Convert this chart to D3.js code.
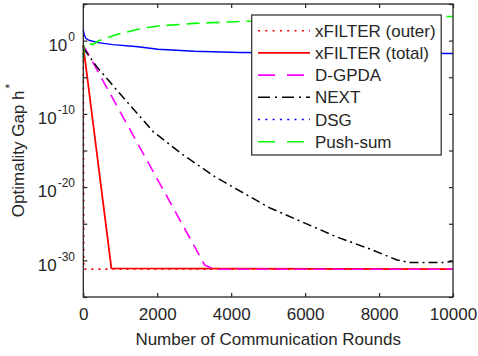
<!DOCTYPE html>
<html><head><meta charset="utf-8">
<script src="https://cdn.jsdelivr.net/npm/d3@7"></script>
<style>
body{margin:0;background:#fff;}
text{font-family:"Liberation Sans",Arial,Helvetica,sans-serif;fill:#262626;}
</style></head>
<body><svg id="c" width="478" height="356"></svg>
<script>
// ---- data (x = communication rounds, values given as log10 of optimality gap) ----
const seriesNames = ["xFILTER (outer)","xFILTER (total)","D-GPDA","NEXT","DSG","Push-sum"];
const outerX = [0, 15, 10000];
const outerLog = [-0.7, -31.2, -31.2];
const totalX = [0, 760, 10000];
const totalLog = [-0.7, -31.1, -31.2];
const gpdaX = [0, 3284, 3420, 3550, 10000];
const gpdaLog = [-0.6, -30.63, -30.95, -31.22, -31.22];
const nextX = [0, 370, 1000, 1890, 2700, 3570, 5050, 6860, 7755, 8485, 8835, 9730, 10000];
const nextLog = [-1.0, -3.6, -7.3, -12.43, -15.6, -18.62, -22.85, -26.81, -28.45, -29.95, -30.3, -30.3, -30.15];
const dsgX = [0, 20, 70, 150, 400, 800, 1480, 2020, 3000, 4240, 6000, 8000, 10000];
const dsgLog = [1.5, 0.9, 0.3, 0.05, -0.28, -0.55, -0.83, -1.18, -1.45, -1.62, -1.68, -1.72, -1.75];
const pushX = [0, 20, 60, 150, 260, 400, 860, 1210, 1480, 2020, 3000, 4100, 6000, 8000, 10000];
const pushLog = [-2.37, -0.5, -0.35, -0.4, -0.55, -0.05, 0.77, 1.22, 1.55, 2.0, 2.35, 2.58, 2.95, 3.17, 3.3];
const xTicks = [0, 2000, 4000, 6000, 8000, 10000];
const yTickExp = [-35, -30, -25, -20, -15, -10, -5, 0, 5];
const yLabelExp = [-30, -20, -10, 0];

const svg = d3.select("#c");
const L = 83.3, R = 453, T = 4, B = 297;
const x = d3.scaleLinear().domain([0, 10000]).range([L, R]);
const y = d3.scaleLog().domain([1e-35, 1e5]).range([B, T]);
const axCol = "#262626";

const styles = [
  {color:"#ff0000", dash:"2,5", width:1.6},
  {color:"#ff0000", dash:null, width:1.8},
  {color:"#ff00ff", dash:"12,7", width:1.6},
  {color:"#000000", dash:"9,4,2,4", width:1.5},
  {color:"#0000ff", dash:null, width:1.4},
  {color:"#00ff00", dash:"13,7", width:1.6}
];
const legendDash = ["2,5.3", null, "17,12", "12,5,2,5", "2,5.3", "17,12"];
const data = [[outerX,outerLog],[totalX,totalLog],[gpdaX,gpdaLog],[nextX,nextLog],[dsgX,dsgLog],[pushX,pushLog]];

const line = d3.line().x(d=>x(d[0])).y(d=>y(d[1]));
const plot = svg.append("g");
data.forEach((s,i)=>{
  const pts = s[0].map((v,j)=>[v, Math.pow(10, s[1][j])]);
  const p = plot.append("path").datum(pts).attr("d", line)
    .attr("fill","none").attr("stroke", styles[i].color)
    .attr("stroke-width", styles[i].width).attr("stroke-linejoin","round");
  if (styles[i].dash) p.attr("stroke-dasharray", styles[i].dash);
});

// axes
const gx = svg.append("g").attr("transform",`translate(0,${B})`)
  .call(d3.axisBottom(x).tickValues(xTicks).tickSize(-4).tickPadding(11).tickFormat(d3.format("d")));
const gxt = svg.append("g").attr("transform",`translate(0,${T})`)
  .call(d3.axisTop(x).tickValues(xTicks).tickSize(-4).tickFormat(""));
const yVals = yTickExp.map(e=>Math.pow(10,e));
const gy = svg.append("g").attr("transform",`translate(${L},0)`)
  .call(d3.axisLeft(y).tickValues(yVals).tickSize(-4).tickFormat(""));
const gyr = svg.append("g").attr("transform",`translate(${R},0)`)
  .call(d3.axisRight(y).tickValues(yVals).tickSize(-4).tickFormat(""));
[gx,gxt,gy,gyr].forEach(g=>{
  g.select(".domain").remove();
  g.selectAll(".tick line").attr("stroke",axCol).attr("stroke-width",1.2);
  g.selectAll("text").attr("font-size",17).attr("font-family","Liberation Sans, Arial, sans-serif").attr("fill",axCol);
});
svg.append("rect").attr("x",L).attr("y",T).attr("width",R-L).attr("height",B-T)
  .attr("fill","none").attr("stroke",axCol).attr("stroke-width",1.3);

// y tick labels with superscripts
yLabelExp.forEach(e=>{
  const t = svg.append("text").attr("x", 75).attr("y", y(Math.pow(10,e)) + 10.3)
    .attr("text-anchor","end").attr("font-size",17);
  t.append("tspan").text("10");
  t.append("tspan").attr("font-size",12).attr("dy",-10).attr("dx",1).text(e===0?"0":String(e));
});

// axis titles
svg.append("text").attr("x",(L+R)/2).attr("y",345).attr("text-anchor","middle")
  .attr("font-size",17).text("Number of Communication Rounds");
const yt = svg.append("text").attr("transform",`translate(24,${(T+B)/2}) rotate(-90)`)
  .attr("text-anchor","middle").attr("font-size",17);
yt.append("tspan").text("Optimality Gap h");
yt.append("tspan").attr("font-size",12).attr("dy",-10).attr("dx",2).text("*");

// legend
const lg = svg.append("g");
lg.append("rect").attr("x",251.7).attr("y",15).attr("width",189.5).attr("height",140)
  .attr("fill","#fff").attr("stroke",axCol).attr("stroke-width",1.2);
seriesNames.forEach((n,i)=>{
  const cy = 30.7 + i*22.2;
  const l = lg.append("line").attr("x1",258).attr("x2",310).attr("y1",cy).attr("y2",cy)
    .attr("stroke",styles[i].color).attr("stroke-width",1.6);
  if (legendDash[i]) l.attr("stroke-dasharray",legendDash[i]);
  lg.append("text").attr("x",315).attr("y",cy+6).attr("font-size",17).text(n);
});
</script></body></html>
